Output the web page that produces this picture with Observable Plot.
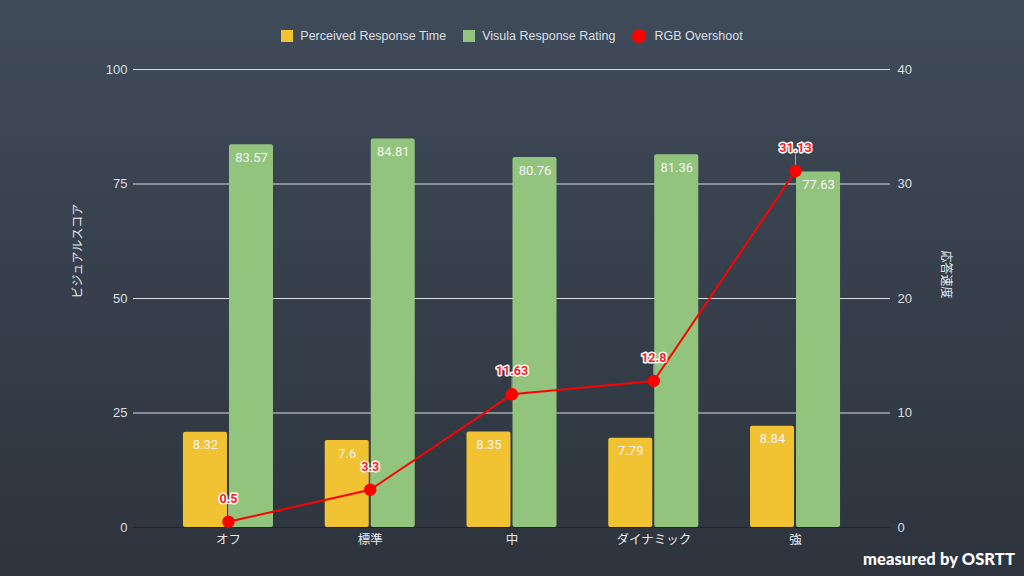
<!DOCTYPE html>
<html>
<head>
<meta charset="utf-8">
<script src="https://cdn.jsdelivr.net/npm/d3@7"></script>
<script src="https://cdn.jsdelivr.net/npm/@observablehq/plot@0.6"></script>
<style>
  html, body { margin: 0; padding: 0; }
  #wrap {
    position: relative; width: 1024px; height: 576px; overflow: hidden;
    background: linear-gradient(to bottom, #404b5a 0%, #363f4b 50%, #2d343d 100%);
    font-family: "Liberation Sans", Arial, "Noto Sans CJK JP", sans-serif;
  }
  #legend {
    position: absolute; top: 29px; left: 0; width: 1024px;
    display: flex; justify-content: center; align-items: center;
    font-size: 12.5px; color: #dcdfe3; z-index: 2;
  }
  #legend .item { display: flex; align-items: center; margin: 0 8.5px; }
  #legend .sw { width: 12px; height: 12px; margin-right: 7px; }
  #legend .circ { width: 14px; height: 14px; border-radius: 50%; margin-right: 8px; }
  #chart { position: absolute; left: 0; top: 0; }
  #mark {
    position: absolute; right: 9px; bottom: 7px; color: #ffffff;
    font-family: "Lato", "Roboto", sans-serif; font-weight: 900; font-size: 16.5px;
    letter-spacing: 0.1px; z-index: 2;
  }
</style>
</head>
<body>
<div id="wrap">
  <div id="legend"></div>
  <div id="chart"></div>
  <div id="mark">measured by OSRTT</div>
</div>
<script>
// ---- data ----
const categories = ["オフ", "標準", "中", "ダイナミック", "強"];
const perceivedResponseTime = [8.32, 7.6, 8.35, 7.79, 8.84];      // right axis
const visualResponseRating = [83.57, 84.81, 80.76, 81.36, 77.63];  // left axis
const rgbOvershoot = [0.5, 3.3, 11.63, 12.8, 31.13];               // right axis
const leftTicks = [0, 25, 50, 75, 100];
const rightTicks = [0, 10, 20, 30, 40];
const seriesNames = ["Perceived Response Time", "Visula Response Rating", "RGB Overshoot"];
const leftTitle = "ビジュアルスコア";
const rightTitle = "応答速度";

const colors = ["#f1c232", "#93c47d", "#ff0000"];
const k = 100 / 40; // right-axis value -> left-axis units

const rows = categories.map((c, i) => ({
  cat: c,
  p: perceivedResponseTime[i],
  v: visualResponseRating[i],
  o: rgbOvershoot[i]
}));

// legend
const legend = document.getElementById("legend");
seriesNames.forEach((name, i) => {
  const it = document.createElement("div");
  it.className = "item";
  const sw = document.createElement("div");
  sw.className = i === 2 ? "circ" : "sw";
  sw.style.background = colors[i];
  const t = document.createElement("span");
  t.textContent = name;
  it.appendChild(sw); it.appendChild(t);
  legend.appendChild(it);
});

const fontFam = "Liberation Sans, Arial, Noto Sans CJK JP, sans-serif";
const plot = Plot.plot({
  width: 1024,
  height: 576,
  marginLeft: 133,
  marginRight: 134,
  marginTop: 69,
  marginBottom: 49,
  style: { background: "transparent", color: "#dcdfe3", fontFamily: fontFam, fontSize: "13px" },
  x: { domain: categories, paddingInner: 0.365, paddingOuter: 0.3525, round: false, label: null },
  y: { domain: [0, 100], label: null },
  marks: [
    Plot.ruleY(leftTicks.filter(d => d > 0), { stroke: "#d9dcdf", strokeWidth: 1 }),
    Plot.axisY(leftTicks, { anchor: "left", tickSize: 0, tickPadding: 6, label: null, fontSize: 13, fill: "#dcdfe3" }),
    Plot.axisY(rightTicks.map(d => d * k), { anchor: "right", tickSize: 0, tickPadding: 7, label: null, tickFormat: d => String(Math.round(d / k)), fontSize: 13, fill: "#dcdfe3" }),
    Plot.axisX({ tickSize: 0, tickPadding: 8, label: null, fontSize: 12.5, fill: "#e6e8ea" }),
    Plot.text([leftTitle], { frameAnchor: "left", dx: -55, rotate: -90, fill: "#e6e8ea", fontSize: 12 }),
    Plot.text([rightTitle], { frameAnchor: "right", dx: 55, rotate: 90, fill: "#e6e8ea", fontSize: 12 }),
    Plot.barY(rows, { x: "cat", y: d => d.p * k, fill: colors[0], insetRight: 46, rx: 2 }),
    Plot.barY(rows, { x: "cat", y: "v", fill: colors[1], insetLeft: 46, rx: 2 }),
    Plot.ruleY([0], { stroke: "#1f262d", strokeWidth: 1 }),
    Plot.text(rows, { x: "cat", y: d => d.p * k, text: d => String(d.p), dx: -23, dy: 13, fill: "#f4f4f4", fontSize: 13, fontFamily: "Roboto" }),
    Plot.text(rows, { x: "cat", y: "v", text: d => String(d.v), dx: 23, dy: 13, fill: "#f4f4f4", fontSize: 13, fontFamily: "Roboto" }),
    Plot.ruleX(rows, { x: "cat", y1: d => d.o * k, y2: d => d.o * k, insetTop: -16, stroke: "#a9adb2", strokeWidth: 1 }),
    Plot.line(rows, { x: "cat", y: d => d.o * k, stroke: colors[2], strokeWidth: 2 }),
    Plot.dot(rows, { x: "cat", y: d => d.o * k, r: 5.5, fill: colors[2], stroke: colors[2] }),
    Plot.text(rows, { x: "cat", y: d => d.o * k, text: d => String(d.o), dy: -23, fill: "#ff1a1a", stroke: "#ffffff", strokeWidth: 3, paintOrder: "stroke", fontWeight: "bold", fontSize: 12.5, fontFamily: "Roboto" })
  ]
});
document.getElementById("chart").appendChild(plot);
</script>
</body>
</html>
